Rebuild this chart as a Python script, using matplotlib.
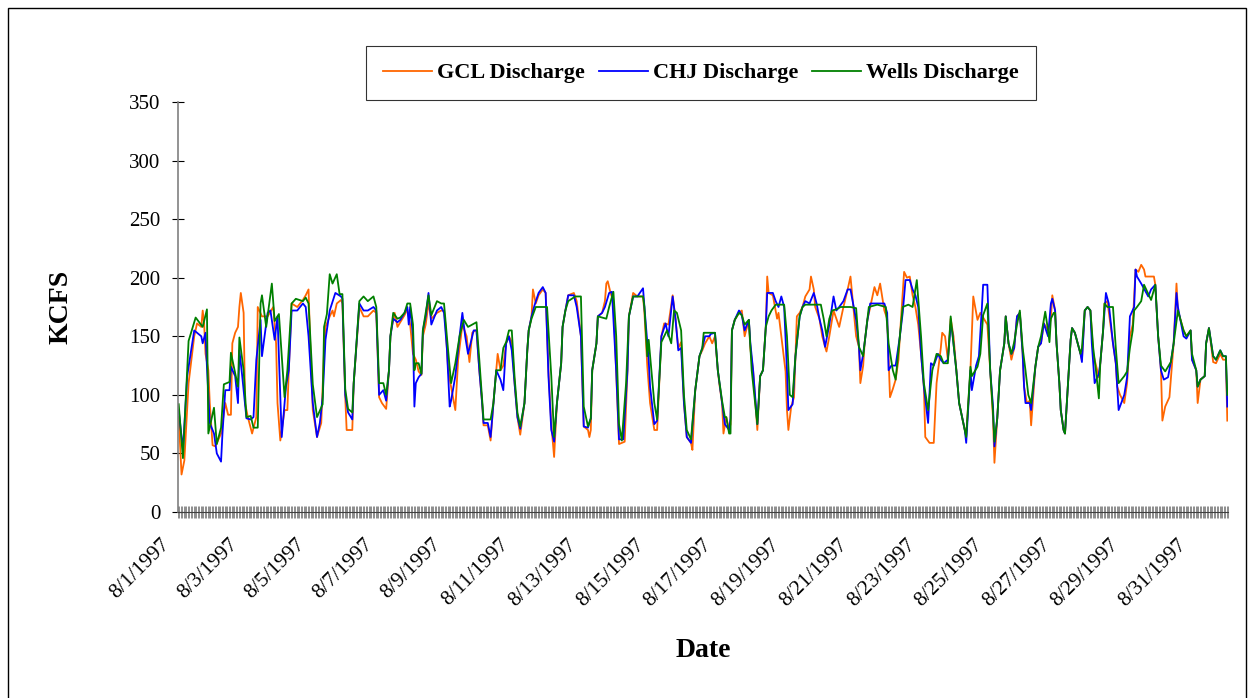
import matplotlib
matplotlib.use("Agg")
import matplotlib.pyplot as plt
from matplotlib.lines import Line2D
from matplotlib.patches import Rectangle
from matplotlib.transforms import ScaledTranslation

# hourly discharge (KCFS), August 1997 as (hour, value)
gcl = [(0,81),(2,32),(4,44),(7,110),(11,150),(13,161),(16,158),(17,172),(18,161),(19,135),(21,121),(22,93),(24,57),(26,56),(30,67),(33,93),(35,83),(37,83),(38,144),(40,153),(42,158),(43,175),(44,187),(46,170),(47,93),(49,81),(52,67),(55,81),(56,175),(59,167),(63,167),(67,175),(69,144),(70,93),(72,61),(75,87),(77,87),(78,121),(80,178),(84,175),(88,181),(90,185),(92,190),(93,150),(95,87),(98,64),(101,76),(103,138),(104,158),(107,167),(109,172),(110,167),(112,178),(115,181),(116,178),(118,98),(119,70),(123,70),(124,110),(128,175),(131,167),(134,167),(138,172),(140,170),(142,98),(144,93),(147,88),(149,121),(150,150),(151,158),(153,170),(155,158),(157,162),(160,168),(162,173),(163,167),(164,160),(166,135),(168,130),(170,120),(172,117),(173,150),(175,160),(177,178),(179,165),(183,170),(186,172),(188,172),(189,160),(191,120),(193,107),(196,87),(198,130),(201,160),(204,150),(206,128),(208,153),(210,155),(211,155),(213,121),(215,93),(216,74),(219,74),(221,61),(223,93),(225,121),(226,135),(228,121),(230,125),(232,144),(234,150),
       (236,145),(238,110),(240,81),(242,66),(245,93),(247,138),(248,155),(250,167),(251,190),(253,178),(255,185),(258,190),(260,187),(262,120),(264,75),(266,47),(268,93),(271,127),(272,158),(274,172),(276,185),(280,187),(282,180),(285,150),(287,73),(290,70),(291,64),(292,70),(293,121),(296,144),(297,167),(300,170),(302,180),(303,195),(304,197),(306,187),(308,180),(310,120),(312,58),(316,60),(318,121),(319,167),(322,187),(325,184),(329,184),(330,170),(332,125),(334,93),(337,70),(339,70),(342,150),(344,161),(347,160),(350,185),(352,165),(354,140),
       (356,145),(358,93),(360,64),(363,59),(364,53),(366,104),(369,133),(371,138),(373,144),(376,150),(378,144),(380,150),(382,121),(383,110),(385,93),(386,67),(388,81),(390,70),(391,75),(392,155),(394,164),(397,170),(399,172),(401,150),(404,164),(405,140),(407,121),(410,70),(412,116),(414,121),(416,158),(417,201),(418,187),(421,185),(423,172),(424,165),(425,170),(427,150),(430,120),(431,87),(432,70),(434,90),(436,98),(437,133),(438,167),(440,170),(442,175),(444,184),(447,190),(448,201),(450,190),(451,175),(454,165),(456,150),(458,141),(459,137),(461,150),(464,172),(466,165),(468,158),(471,175),(474,190),(476,201),
       (480,150),(482,141),(483,110),(485,125),(486,144),(488,164),(490,175),(493,192),(495,185),(497,195),(500,172),(502,165),(504,98),(506,105),(508,113),(510,130),(511,150),(514,205),(516,200),(518,201),(520,185),(522,175),(524,160),(526,135),(528,107),(529,64),(532,59),(535,59),(537,110),(540,140),(541,153),(543,150),(545,130),(547,165),(549,150),(551,121),(553,93),(557,70),(558,65),(561,121),(563,184),(566,164),(568,170),(571,164),(573,160),(575,121),(577,80),(578,42),(580,80),(582,121),(585,144),(586,167),(588,144),(590,130),(592,140),(594,167),(596,170),
       (598,135),(599,107),(601,93),(603,95),(604,74),(607,124),(609,141),(611,144),(613,161),(616,155),(618,165),(619,185),(621,172),(622,144),(624,110),(625,87),(627,70),(628,67),(630,107),(632,147),(633,157),(635,153),(637,144),(639,135),(640,130),(642,172),(644,175),(646,172),(648,135),(649,130),(652,115),(653,127),(655,155),(656,178),(658,180),(662,144),(664,127),(665,107),(667,100),(670,93),(672,110),(674,150),(676,160),(678,207),(680,205),(682,211),(684,207),(685,201),(691,201),(692,194),(694,150),(696,121),(697,78),(699,90),(702,98),(705,144),(707,195),(708,172),(712,155),(714,150),(717,155),(718,130),(721,121),(722,93),(724,113),(727,116),(728,144),(730,157),(733,128),(735,127),(738,135),(740,130),(742,130),(743,78)]

chj = [(0,87),(3,53),(6,116),(11,155),(16,150),(17,144),(19,153),(20,124),(22,76),(25,67),(27,50),(30,43),(31,67),(33,104),(36,104),(37,124),(40,116),(42,93),(43,138),(45,116),(48,80),(51,79),(53,81),(55,130),(58,164),(59,133),(63,170),(65,172),(68,147),(70,167),(73,64),(76,107),(78,121),(80,172),(84,172),(88,178),(90,175),(92,150),(95,93),(98,64),(100,76),(102,98),(104,147),(107,172),(111,187),(115,184),(116,182),(118,100),(120,85),(123,79),(124,110),(128,178),(131,172),(134,172),(138,175),(140,172),(142,100),(145,104),(147,95),(149,121),(150,150),(152,165),(155,162),(157,164),(160,170),(162,175),(163,160),(164,175),(166,150),(167,90),(168,110),(170,115),(172,118),(173,155),(175,167),(177,187),(179,160),(183,172),(186,175),(188,170),(190,140),(192,90),(193,95),(196,116),(199,150),(201,170),(203,150),(205,135),(209,155),(211,155),(213,121),(215,93),(216,76),(219,76),(221,64),(223,93),(225,121),(228,113),(230,104),(232,144),(234,150),
       (236,138),(238,110),(240,81),(242,71),(245,93),(247,138),(248,155),(250,167),(252,176),(255,187),(258,192),(260,187),(262,116),(264,70),(266,60),(268,93),(271,127),(272,158),(274,172),(276,185),(280,185),(282,175),(285,150),(287,73),(290,72),(292,80),(293,121),(296,144),(297,167),(300,170),(302,175),(305,187),(307,188),(310,120),(312,62),(315,62),(318,121),(319,167),(322,184),(325,184),(329,191),(330,175),(333,130),(334,107),(337,75),(339,78),(342,150),(345,161),(347,150),(350,184),(352,165),(354,138),
       (356,140),(358,93),(360,64),(363,59),(366,104),(369,133),(371,140),(373,150),(376,150),(377,152),(380,153),(382,121),(385,93),(387,75),(390,70),(391,80),(392,155),(394,164),(397,172),(399,168),(401,155),(404,164),(405,145),(407,121),(410,75),(412,116),(414,121),(416,158),(417,187),(421,187),(423,180),(425,175),(427,184),(429,175),(431,121),(432,87),(435,92),(437,133),(440,167),(442,175),(444,180),(447,178),(450,187),(452,178),(454,165),(456,155),(458,141),(461,160),(464,184),(466,172),(468,175),(471,180),(474,190),(476,190),
       (480,164),(482,141),(483,121),(485,135),(486,144),(488,164),(490,178),(495,178),(500,178),(502,170),(503,121),(505,125),(508,125),(511,150),(513,170),(515,198),(518,198),(520,190),(522,185),(524,175),(526,135),(528,107),(531,76),(533,127),(535,125),(538,135),(540,130),(542,127),(545,130),(547,160),(548,155),(551,121),(553,93),(557,70),(558,59),(561,121),(562,104),(565,125),(567,133),(569,172),(570,194),(573,194),(575,121),(577,90),(578,56),(580,80),(582,121),(585,144),(586,167),(588,144),(590,135),(592,140),(594,167),(596,170),
       (598,135),(599,107),(600,93),(603,93),(604,87),(607,124),(609,141),(611,144),(613,161),(616,150),(618,178),(619,182),(621,172),(622,144),(624,110),(625,87),(627,70),(628,67),(630,107),(632,147),(633,157),(635,153),(637,144),(639,135),(640,128),(642,172),(644,175),(646,172),(647,144),(649,110),(652,118),(653,127),(655,155),(657,187),(659,178),(662,144),(664,127),(665,107),(666,87),(670,100),(672,115),(674,167),(677,175),(678,207),(679,201),(682,195),(687,184),(689,190),(692,194),(694,150),(696,121),(698,113),(701,115),(703,128),(705,144),(707,187),(708,175),(712,150),(714,148),(717,155),(718,130),(721,121),(722,107),(724,113),(727,116),(728,144),(730,157),(733,133),(735,130),(738,138),(740,133),(742,133),(743,90)]

wells = [(0,92),(3,46),(7,146),(12,166),(17,158),(20,173),(21,67),(25,89),(27,58),(30,72),(32,109),(36,111),(37,136),(42,107),(43,149),(46,121),(48,81),(51,82),(53,72),(56,72),(58,178),(59,185),(62,158),(66,195),(68,163),(71,169),(75,98),(77,121),(80,178),(83,182),(88,180),(90,183),(92,178),(95,109),(98,81),(102,92),(103,158),(105,169),(107,203),(109,195),(112,203),(114,186),(116,186),(118,105),(120,88),(123,85),(124,110),(128,180),(131,184),(134,180),(138,184),(140,175),(142,110),(145,110),(147,100),(149,121),(150,150),(152,170),(155,165),(157,166),(160,170),(162,178),(164,178),(166,160),(167,121),(168,127),(170,127),(172,118),(173,155),(175,170),(177,185),(179,168),(183,180),(186,178),(188,178),(190,150),(193,110),(196,127),(199,150),(202,164),(205,158),(208,160),(211,162),(213,130),(216,79),(221,79),(223,93),(225,121),(228,121),(230,140),(232,145),(234,155),
         (236,155),(238,115),(240,85),(242,73),(245,93),(247,138),(248,155),(250,165),(253,175),(261,175),(264,116),(266,64),(268,93),(271,127),(272,158),(274,172),(276,180),(281,184),(285,184),(287,90),(290,73),(292,80),(293,121),(296,144),(297,167),(303,165),(305,175),(308,188),(310,150),(312,75),(314,61),(317,110),(319,167),(322,184),(329,184),(330,175),(332,133),(333,147),(335,120),(337,93),(339,79),(342,145),(346,155),(349,144),(351,172),(353,170),
         (356,155),(358,100),(360,70),(363,62),(366,104),(369,133),(371,140),(372,153),(376,153),(380,153),(382,121),(385,95),(387,81),(388,81),(390,67),(391,67),(392,155),(394,164),(397,170),(399,168),(401,160),(404,164),(406,121),(410,75),(412,116),(414,121),(416,158),(418,167),(420,172),(423,177),(429,177),(431,150),(433,100),(435,98),(437,133),(440,167),(442,175),(444,177),(455,177),(457,165),(459,150),(461,165),(463,172),(466,173),(469,175),(476,175),
         (480,174),(482,141),(485,133),(486,144),(489,175),(495,177),(501,175),(503,144),(506,121),(508,113),(511,150),(513,175),(517,177),(520,175),(523,198),(526,150),(528,110),(531,87),(534,121),(537,135),(540,133),(542,127),(545,127),(547,167),(548,155),(551,121),(553,93),(557,70),(558,64),(561,124),(562,116),(566,124),(568,135),(570,168),(573,178),(575,121),(577,85),(578,60),(580,80),(582,121),(585,144),(586,167),(588,144),(590,135),(592,145),(594,160),(596,172),
         (598,140),(600,121),(602,100),(604,93),(607,124),(609,141),(611,150),(614,171),(616,155),(617,145),(618,165),(620,170),(621,170),(622,144),(624,110),(625,87),(627,70),(628,67),(630,107),(632,147),(633,157),(635,153),(637,144),(639,135),(640,140),(642,172),(644,175),(646,172),(648,140),(650,120),(652,97),(653,127),(655,155),(656,178),(658,175),(662,175),(664,140),(666,110),(670,116),(672,120),(674,140),(676,155),(677,172),(679,175),(682,180),(684,194),(689,181),(692,194),(694,150),(696,125),(699,120),(701,124),(703,128),(705,144),(708,172),(712,155),(714,150),(717,155),(718,135),(721,121),(722,107),(724,113),(727,116),(728,144),(730,157),(733,133),(735,130),(738,138),(740,133),(742,133),(743,100)]

n_hours = 744
date_labels = ["8/1/1997", "8/3/1997", "8/5/1997", "8/7/1997", "8/9/1997", "8/11/1997",
               "8/13/1997", "8/15/1997", "8/17/1997", "8/19/1997", "8/21/1997", "8/23/1997",
               "8/25/1997", "8/27/1997", "8/29/1997", "8/31/1997"]

series = [("GCL Discharge", gcl, "#FF6600"),
          ("CHJ Discharge", chj, "#0000FF"),
          ("Wells Discharge", wells, "#008000")]

plt.rcParams["font.family"] = ["Liberation Serif", "DejaVu Serif"]

fig = plt.figure(figsize=(12.54, 6.98), dpi=100)
ax = fig.add_axes([178 / 1254, 1 - 512 / 698, 1050 / 1254, 410 / 698])

handles = []
for name, pts, col in series:
    hrs = [p[0] + 0.5 for p in pts]
    vals = [p[1] for p in pts]
    ln, = ax.plot(hrs, vals, color=col, lw=1.3, label=name)
    handles.append(ln)

ax.set_xlim(0, n_hours)
ax.set_ylim(0, 350)
ax.set_yticks(range(0, 351, 50))

ax.set_xticks(range(0, n_hours, 48))
ax.set_xticklabels(date_labels)
ax.set_xticks(range(0, n_hours + 1), minor=True)
ax.tick_params(axis="x", which="both", direction="inout", length=9, width=0.5,
               color="#606060", labelsize=15.5, pad=17)
shift = ScaledTranslation(-0.11, 0, fig.dpi_scale_trans)
for lab in ax.get_xticklabels():
    lab.set_rotation(45)
    lab.set_ha("right")
    lab.set_va("center")
    lab.set_rotation_mode("anchor")
    lab.set_transform(lab.get_transform() + shift)
ax.tick_params(axis="y", direction="inout", length=9, width=0.8, labelsize=15, pad=8)

for s in ["top", "right"]:
    ax.spines[s].set_visible(False)
ax.spines["left"].set_color("#808080")
ax.spines["left"].set_linewidth(1.2)
ax.spines["bottom"].set_color("#404040")

ax.set_ylabel("KCFS", fontsize=20, fontweight="bold", labelpad=40)
ax.set_xlabel("Date", fontsize=20, fontweight="bold", labelpad=20)

leg = fig.legend(handles=handles, loc="center", bbox_to_anchor=(701 / 1254, 1 - 73 / 698),
                 ncol=3, frameon=True, fancybox=False, edgecolor="black",
                 prop={"size": 16, "weight": "bold"}, handlelength=2.2,
                 columnspacing=0.6, handletextpad=0.25, borderpad=0.75)
leg.get_frame().set_linewidth(0.8)

fig.patches.append(Rectangle((8 / 1254, -0.01), 1238 / 1254, 1.0 - 8 / 698 + 0.01,
                             transform=fig.transFigure, fill=False, edgecolor="black", lw=1))

fig.savefig("out.png", dpi=100)
